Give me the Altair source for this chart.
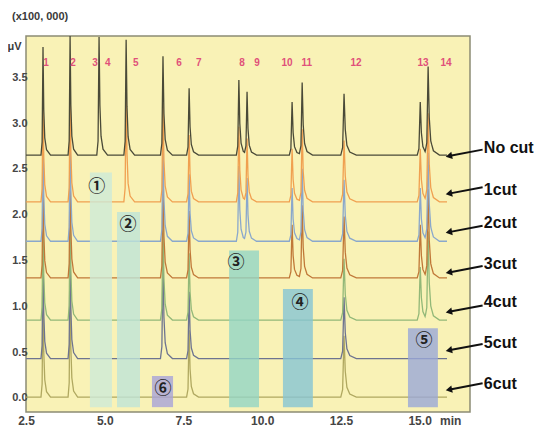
import altair as alt
import numpy as np
import pandas as pd

# ---------------- data ----------------
peak_ids = ["1", "2", "3", "5", "6", "7", "8", "9", "10", "11", "12", "13", "14"]
peak_times = [3.04, 3.90, 4.82, 5.68, 6.85, 7.68, 9.26, 9.52, 10.95, 11.27, 12.60, 15.02, 15.27]
peak_heights = [1.18, 1.30, 1.29, 1.26, 1.08, 0.73, 0.82, 0.68, 0.58, 0.79, 0.67, 0.58, 0.95]
peak_widths = [0.8, 0.8, 0.9, 0.9, 1.0, 1.0, 1.0, 1.0, 1.1, 1.1, 1.3, 1.2, 1.2]

trace_names = ["No cut", "1cut", "2cut", "3cut", "4cut", "5cut", "6cut"]
trace_baselines = [2.65, 2.14, 1.71, 1.31, 0.85, 0.43, 0.01]
trace_colors = ["#4A4A38", "#F0A050", "#8AA8CC", "#C07838", "#92B878", "#6E7490", "#B0A860"]
trace_peaks = [
    ["1", "2", "3", "5", "6", "7", "8", "9", "10", "11", "12", "13", "14"],
    ["1", "2", "5", "6", "7", "8", "9", "10", "11", "12", "13", "14"],
    ["1", "2", "6", "7", "8", "9", "10", "11", "12", "13", "14"],
    ["1", "2", "6", "7", "10", "11", "12", "13", "14"],
    ["1", "2", "6", "7", "12", "13", "14"],
    ["1", "2", "6", "7", "12"],
    ["1", "2", "7", "12"],
]
trace_start = 2.5
trace_end = 15.87

# peak number labels
label_texts = ["1", "2", "3", "4", "5", "6", "7", "8", "9", "10", "11", "12", "13", "14"]
label_times = [3.14, 3.99, 4.69, 5.10, 5.99, 7.36, 7.99, 9.36, 9.84, 10.79, 11.42, 12.98, 15.11, 15.84]
label_level = 3.65

# cut windows
box_marks = ["①", "②", "③", "④", "⑤", "⑥"]
box_t0 = [4.53, 5.39, 8.95, 10.66, 14.63, 6.50]
box_t1 = [5.23, 6.12, 9.90, 11.61, 15.58, 7.17]
box_top = [2.46, 2.03, 1.61, 1.19, 0.76, 0.24]
box_bottom = [-0.10, -0.10, -0.10, -0.10, -0.10, -0.10]
box_colors = ["#CDEAD8", "#BEE3D8", "#92D4C6", "#86C4D4", "#9AA8D8", "#A8A2DA"]
mark_t = [4.75, 5.74, 9.17, 11.20, 15.14, 6.85]
mark_y = [2.30, 1.89, 1.47, 1.04, 0.62, 0.10]

# arrows and trace names on the right
arrow_tip_t = 15.93
arrow_tail_t = 17.0
arrow_tip_y = [2.64, 2.23, 1.81, 1.37, 0.94, 0.52, 0.09]
arrow_tail_y = [2.71, 2.30, 1.88, 1.44, 1.01, 0.59, 0.16]
name_y = [2.73, 2.27, 1.91, 1.46, 1.05, 0.60, 0.15]
name_t = 17.04

x_ticks = [2.5, 5.0, 7.5, 10.0, 12.5, 15.0]
y_ticks = [0.0, 0.5, 1.0, 1.5, 2.0, 2.5, 3.0, 3.5]
x_domain = [2.5, 16.6]
y_domain = [-0.153, 3.95]

# peak profile (relative time offsets, fraction of height)
shape_dt = [-0.08, -0.035, 0.0, 0.03, 0.07, 0.14, 0.30]
shape_f = [0.0, 0.12, 1.0, 0.42, 0.16, 0.05, 0.0]

# ---------------- build tables ----------------
rows = []
for k in reversed(range(len(trace_names))):
    name, base, pk = trace_names[k], trace_baselines[k], trace_peaks[k]
    idx = [peak_ids.index(p) for p in pk]
    ts = {trace_start, trace_end}
    for i in idx:
        for d in shape_dt:
            ts.add(peak_times[i] + d * peak_widths[i])
    ts = sorted(t for t in ts if trace_start <= t <= trace_end)
    for j, t in enumerate(ts):
        y = base
        for i in idx:
            xs = [peak_times[i] + d * peak_widths[i] for d in shape_dt]
            y += peak_heights[i] * float(np.interp(t, xs, shape_f))
        rows.append({"trace": name, "t": t, "y": y, "ord": j})
traces = pd.DataFrame(rows)

labels = pd.DataFrame({"txt": label_texts, "t": label_times, "y": [label_level] * len(label_texts)})
boxes = pd.DataFrame({"m": box_marks, "t0": box_t0, "t1": box_t1, "top": box_top,
                      "bot": box_bottom, "col": box_colors, "mt": mark_t, "my": mark_y})
arrows = pd.DataFrame({"trace": trace_names, "tip_t": [arrow_tip_t] * 7, "tail_t": [arrow_tail_t] * 7,
                       "tip_y": arrow_tip_y, "tail_y": arrow_tail_y, "name_y": name_y,
                       "name_t": [name_t] * 7})
minlab = pd.DataFrame({"txt": ["min"], "t": [15.65], "y": [-0.25]})

xs = alt.Scale(domain=x_domain, nice=False, zero=False)
ys = alt.Scale(domain=y_domain, nice=False, zero=False)

x_axis = alt.Axis(values=x_ticks, format=".1f", title=None, grid=False, ticks=False, domain=False,
                  labelFont="Liberation Sans", labelFontSize=12, labelFontWeight="bold",
                  labelColor="#454545", labelPadding=3, labelFlush=False)
y_axis = alt.Axis(values=y_ticks, format=".1f", title="μV", titleAngle=0, titleX=-12, titleY=10,
                  titleAlign="center", titleBaseline="middle", titleFont="Liberation Sans",
                  titleFontSize=11, titleFontWeight="bold", titleColor="#3a3a3a",
                  grid=False, ticks=False, domain=False,
                  labelFont="Liberation Sans", labelFontSize=11, labelFontWeight="bold",
                  labelColor="#454545", labelPadding=-1, labelFlush=False)

lines = alt.Chart(traces).mark_line(strokeWidth=1.3, clip=True).encode(
    x=alt.X("t:Q", scale=xs, axis=x_axis),
    y=alt.Y("y:Q", scale=ys, axis=y_axis),
    color=alt.Color("trace:N", scale=alt.Scale(domain=trace_names, range=trace_colors), legend=None),
    order="ord:Q",
)

rects = alt.Chart(boxes).mark_rect(opacity=0.8).encode(
    x=alt.X("t0:Q", scale=xs), x2="t1:Q",
    y=alt.Y("top:Q", scale=ys), y2="bot:Q",
    color=alt.Color("col:N", scale=None),
)

circ = alt.Chart(boxes).mark_text(font="Noto Sans CJK JP", fontSize=17, fontWeight="bold",
                                  color="#222222", baseline="middle", align="center").encode(
    x=alt.X("mt:Q", scale=xs), y=alt.Y("my:Q", scale=ys), text="m:N")

peak_lab = alt.Chart(labels).mark_text(font="Liberation Sans", fontSize=10, fontWeight="bold",
                                       color="#E0507A", baseline="middle", align="center").encode(
    x=alt.X("t:Q", scale=xs), y=alt.Y("y:Q", scale=ys), text="txt:N")

arrow_lines = alt.Chart(arrows).mark_rule(color="#111111", strokeWidth=2).encode(
    x=alt.X("tail_t:Q", scale=xs), x2="tip_t:Q",
    y=alt.Y("tail_y:Q", scale=ys), y2="tip_y:Q")

arrow_heads = alt.Chart(arrows).mark_point(shape="triangle-left", filled=True, size=55,
                                           color="#111111", opacity=1, angle=349).encode(
    x=alt.X("tip_t:Q", scale=xs), y=alt.Y("tip_y:Q", scale=ys))

names = alt.Chart(arrows).mark_text(font="Liberation Sans", fontSize=16, fontWeight="bold",
                                    color="#111111", align="left", baseline="middle").encode(
    x=alt.X("name_t:Q", scale=xs), y=alt.Y("name_y:Q", scale=ys), text="trace:N")

minl = alt.Chart(minlab).mark_text(font="Liberation Sans", fontSize=12, fontWeight="bold",
                                   color="#454545", align="left", baseline="middle").encode(
    x=alt.X("t:Q", scale=xs), y=alt.Y("y:Q", scale=ys), text="txt:N")

chart = alt.layer(lines, rects, circ, peak_lab, arrow_lines, arrow_heads, names, minl).properties(
    width=444, height=376,
    autosize=alt.AutoSizeParams(type="none"),
    padding={"left": 18, "top": 28, "right": 64, "bottom": 16},
    background="#FFFFFF",
    title=alt.TitleParams("(x100, 000)", anchor="start", frame="group", dx=-14, offset=14,
                          fontSize=11, font="Liberation Sans", fontWeight="bold", color="#3a3a3a"),
).configure_view(fill="#F9F2B6", stroke="#8C8C74", strokeWidth=1.5)

chart.save("out.html", embed_options={"renderer": "svg", "actions": False})
